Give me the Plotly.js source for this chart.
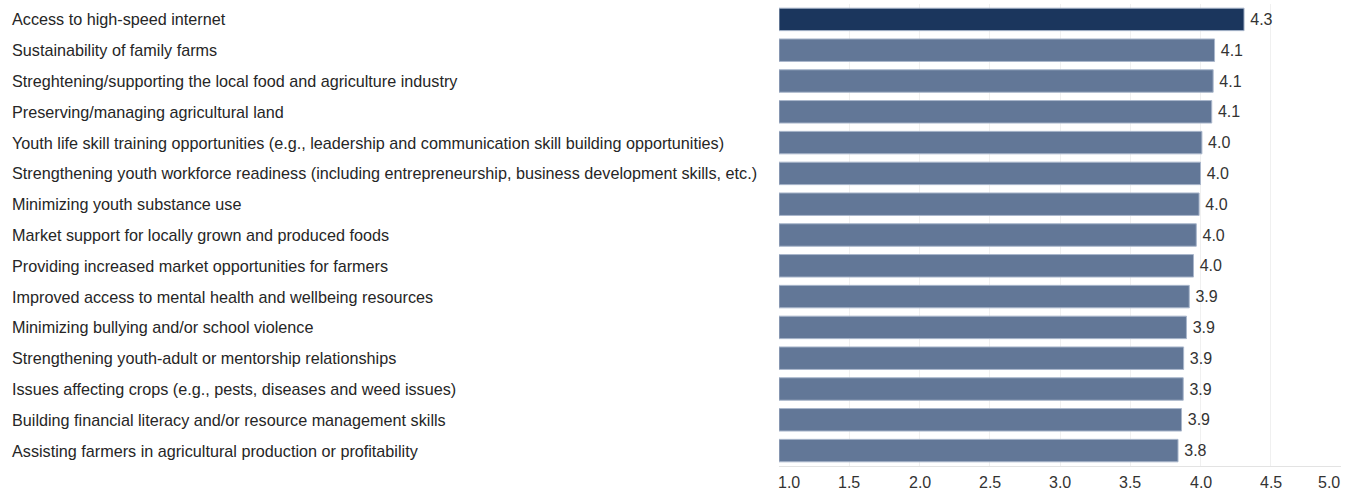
<!DOCTYPE html>
<html>
<head>
<meta charset="utf-8">
<script src="https://cdn.plot.ly/plotly-3.0.1.min.js"></script>
<style>html,body{margin:0;padding:0;background:#fff;}#chart{width:1354px;height:492px;}</style>
</head>
<body>
<div id="chart"></div>
<script>
const categories = [
  "Access to high-speed internet",
  "Sustainability of family farms",
  "Streghtening/supporting the local food and agriculture industry",
  "Preserving/managing agricultural land",
  "Youth life skill training opportunities (e.g., leadership and communication skill building opportunities)",
  "Strengthening youth workforce readiness (including entrepreneurship, business development skills, etc.)",
  "Minimizing youth substance use",
  "Market support for locally grown and produced foods",
  "Providing increased market opportunities for farmers",
  "Improved access to mental health and wellbeing resources",
  "Minimizing bullying and/or school violence",
  "Strengthening youth-adult or mentorship relationships",
  "Issues affecting crops (e.g., pests, diseases and weed issues)",
  "Building financial literacy and/or resource management skills",
  "Assisting farmers in agricultural production or profitability"
];
const values = [4.31, 4.10, 4.09, 4.08, 4.01, 4.00, 3.99, 3.97, 3.95, 3.92, 3.90, 3.88, 3.877, 3.865, 3.84];
const valueLabels = ["4.3","4.1","4.1","4.1","4.0","4.0","4.0","4.0","4.0","3.9","3.9","3.9","3.9","3.9","3.8"];
const tickVals = [1.0, 1.5, 2.0, 2.5, 3.0, 3.5, 4.0, 4.5, 5.0];
const tickText = ["1.0","1.5","2.0","2.5","3.0","3.5","4.0","4.5","5.0"];

const dark = "#1b365d", light = "#627797";
const colors = values.map((v, i) => i === 0 ? dark : light);

const plotLeft = 778.6, plotRight = 1341.5;
const plotW = plotRight - plotLeft;
const labelX = (8 - plotLeft) / plotW;

const FONT = "Liberation Sans, Arial, sans-serif";
const FS = 16;

const annotations = categories.map(c => ({
  xref: "paper", yref: "y", x: labelX, y: c, xanchor: "left", yanchor: "middle",
  text: c, showarrow: false, font: {family: FONT, size: 16.2, color: "#262626"}
}));
// x tick labels: inner ticks follow the axis; the two edge labels are nudged inward as in the source
const edgeShift = {0: 10, [tickVals.length - 1]: -12};
tickVals.forEach((v, i) => {
  annotations.push({
    xref: "x", yref: "paper", x: v, y: 0, xanchor: "center", yanchor: "top",
    xshift: edgeShift[i] || 0, yshift: -6, text: tickText[i], showarrow: false,
    font: {family: FONT, size: FS, color: "#333333"}
  });
});

const trace = {
  type: "bar", orientation: "h",
  x: values.map(v => v - 1.0), base: 1.0, y: categories,
  marker: {color: colors, line: {color: "#a9b6cb", width: 1}},
  text: valueLabels.map(t => "\u2009" + t), textposition: "outside", cliponaxis: false,
  textfont: {family: FONT, size: FS, color: "#333333"},
  hoverinfo: "skip"
};

const layout = {
  width: 1354, height: 492,
  margin: {l: plotLeft, r: 1354 - plotRight, t: 3.6, b: 492 - 466.5, pad: 0},
  paper_bgcolor: "#ffffff", plot_bgcolor: "#ffffff",
  showlegend: false,
  bargap: 0.27,
  xaxis: {
    range: [1.0, 5.0], tickvals: tickVals, showticklabels: false,
    showgrid: true, gridcolor: "#f0f0f0", gridwidth: 1,
    zeroline: false, showline: true, linecolor: "#e3e3e3", linewidth: 1,
    ticks: "", fixedrange: true
  },
  yaxis: {
    type: "category", categoryorder: "array", categoryarray: categories,
    autorange: "reversed", showticklabels: false, showgrid: false,
    zeroline: false, showline: false, ticks: "", fixedrange: true
  },
  annotations: annotations,
  font: {family: FONT}
};

Plotly.newPlot("chart", [trace], layout, {displayModeBar: false, staticPlot: true});
</script>
</body>
</html>
